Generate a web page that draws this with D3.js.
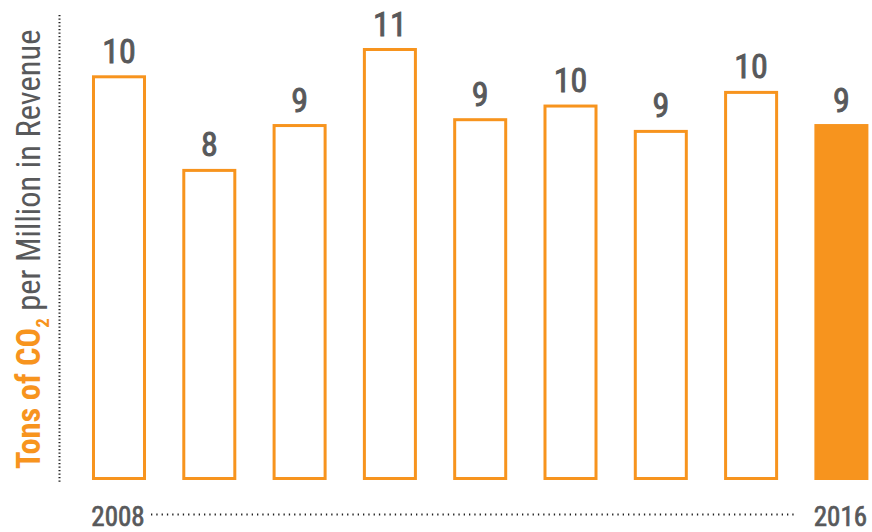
<!DOCTYPE html>
<html>
<head>
<meta charset="utf-8">
<script src="https://cdn.jsdelivr.net/npm/d3@7/dist/d3.min.js"></script>
<style>
html,body{margin:0;padding:0;background:#fff;}
svg{display:block;}
text{font-family:"Liberation Sans Narrow","Roboto Condensed","Arial Narrow",sans-serif;}
</style>
</head>
<body>
<svg id="chart" width="872" height="532"></svg>
<script>
const years = ["2008","2009","2010","2011","2012","2013","2014","2015","2016"];
const values = [10.3, 7.9, 9.05, 11.0, 9.2, 9.55, 8.9, 9.9, 9.05];
const labels = ["10","8","9","11","9","10","9","10","9"];
const axisYears = ["2008","2016"];
const titleBold = "Tons of CO";
const titleSub = "2";
const titleRest = " per Million in Revenue";

const orange = "#F7941E";
const gray = "#58595B";

const svg = d3.select("#chart");

const x = d3.scaleBand().domain(years).range([73.85, 886.55]).paddingInner(0.435).paddingOuter(0.2175);
const y = d3.scaleLinear().domain([0, 11]).range([478.5, 49.5]);

// y axis dotted line
svg.append("line")
  .attr("x1", 59.5).attr("x2", 59.5).attr("y1", 15).attr("y2", 483)
  .attr("stroke", "#222").attr("stroke-width", 2).attr("stroke-dasharray", "1.2,2.3");

// bars
svg.selectAll("rect.bar").data(years).join("rect")
  .attr("class", "bar")
  .attr("x", d => x(d))
  .attr("width", x.bandwidth())
  .attr("y", (d, i) => y(values[i]))
  .attr("height", (d, i) => y(0) - y(values[i]))
  .attr("fill", (d, i) => i === years.length - 1 ? orange : "#fff")
  .attr("stroke", orange)
  .attr("stroke-width", 3);

// value labels
svg.selectAll("text.val").data(years).join("text")
  .attr("class", "val")
  .attr("x", d => x(d) + x.bandwidth() / 2)
  .attr("y", (d, i) => y(values[i]) - 14)
  .attr("text-anchor", "middle")
  .attr("fill", gray)
  .attr("stroke", gray)
  .attr("stroke-width", 0.9)
  .attr("font-size", 34)
  .text((d, i) => labels[i]);

// bottom year labels
svg.selectAll("text.yr").data(axisYears).join("text")
  .attr("class", "yr")
  .attr("x", d => x(d) + x.bandwidth() / 2 - 1)
  .attr("y", 526)
  .attr("text-anchor", "middle")
  .attr("fill", gray)
  .attr("stroke", gray)
  .attr("stroke-width", 0.7)
  .attr("font-size", 27)
  .text(d => d);

// bottom dotted line
svg.append("line")
  .attr("x1", 151).attr("x2", 797).attr("y1", 514.5).attr("y2", 514.5)
  .attr("stroke", "#222").attr("stroke-width", 2).attr("stroke-dasharray", "1.3,4");

// y title
const t = svg.append("text")
  .attr("transform", "translate(40,469) rotate(-90)")
  .attr("font-size", 32.5);
t.append("tspan").attr("fill", orange).attr("font-weight", "bold").text(titleBold);
t.append("tspan").attr("fill", orange).attr("font-weight", "bold").attr("font-size", 19).attr("dy", 9).text(titleSub);
t.append("tspan").attr("fill", gray).attr("dy", -9).text(titleRest);
</script>
</body>
</html>
